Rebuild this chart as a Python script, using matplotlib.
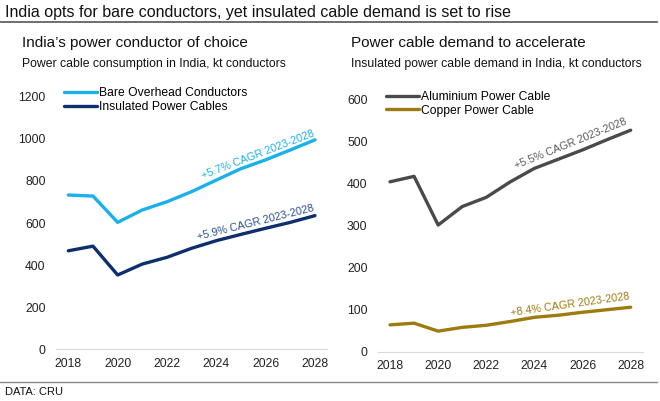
import matplotlib.pyplot as plt
from matplotlib.lines import Line2D

plt.rcParams['font.family'] = ['Liberation Sans', 'DejaVu Sans']

years = [2018, 2019, 2020, 2021, 2022, 2023, 2024, 2025, 2026, 2027, 2028]

# left panel, kt conductors
bare_overhead = [733, 728, 603, 662, 701, 749, 804, 858, 900, 947, 995]
insulated = [468, 490, 353, 405, 437, 480, 516, 546, 575, 603, 635]

# right panel, kt conductors
aluminium = [405, 418, 302, 346, 368, 405, 437, 459, 481, 505, 528]
copper = [64, 68, 49, 58, 63, 72, 82, 87, 94, 100, 106]

xticks = [2018, 2020, 2022, 2024, 2026, 2028]

c_light = '#1ab0ec'
c_navy = '#0d2f6e'
c_navy_txt = '#2a4f8f'
c_grey = '#4a4a4a'
c_grey_txt = '#5a5a5a'
c_gold = '#9e7b0e'

fig = plt.figure(figsize=(6.6, 4.01), dpi=100)

# header and footer
fig.text(5/660, 1 - 12/401, 'India opts for bare conductors, yet insulated cable demand is set to rise',
         fontsize=11.5, va='center', ha='left', color='#111111')
fig.add_artist(Line2D([0, 657/660], [1 - 22/401, 1 - 22/401], color='#555555', lw=1.2))
fig.add_artist(Line2D([0, 657/660], [1 - 381.5/401, 1 - 381.5/401], color='#888888', lw=1.0))
fig.text(5/660, 1 - 392/401, 'DATA: CRU', fontsize=8, va='center', ha='left', color='#111111')

fig.text(22/660, 1 - 43/401, "India\u2019s power conductor of choice", fontsize=11, va='center', color='#111111')
fig.text(22/660, 1 - 64/401, 'Power cable consumption in India, kt conductors', fontsize=8.8, va='center', color='#111111')
fig.text(351/660, 1 - 43/401, 'Power cable demand to accelerate', fontsize=11, va='center', color='#111111')
fig.text(351/660, 1 - 64/401, 'Insulated power cable demand in India, kt conductors', fontsize=8.8, va='center', color='#111111')

ax1 = fig.add_axes([56/660, 1 - 349.3/401, 271.3/660, 252.6/401])
ax2 = fig.add_axes([378/660, 1 - 351.7/401, 264.7/660, 251.7/401])

lw = 2.4
ax1.plot(years, bare_overhead, color=c_light, lw=lw, solid_joinstyle='round', solid_capstyle='round',
         label='Bare Overhead Conductors')
ax1.plot(years, insulated, color=c_navy, lw=lw, solid_joinstyle='round', solid_capstyle='round',
         label='Insulated Power Cables')
ax1.set_ylim(0, 1200)
ax1.set_yticks(range(0, 1201, 200))

ax2.plot(years, aluminium, color=c_grey, lw=lw, solid_joinstyle='round', solid_capstyle='round',
         label='Aluminium Power Cable')
ax2.plot(years, copper, color=c_gold, lw=lw, solid_joinstyle='round', solid_capstyle='round',
         label='Copper Power Cable')
ax2.set_ylim(0, 600)
ax2.set_yticks(range(0, 601, 100))

for ax in (ax1, ax2):
    ax.set_xlim(2017.5, 2028.5)
    ax.set_xticks(xticks)
    for s in ['top', 'right', 'left']:
        ax.spines[s].set_visible(False)
    ax.spines['bottom'].set_color('#d9d9d9')
    ax.spines['bottom'].set_linewidth(0.8)
    ax.tick_params(axis='both', length=0, labelsize=8.8, colors='#222222')
    ax.tick_params(axis='y', pad=7.5)
    ax.tick_params(axis='x', pad=6)
    ax.patch.set_alpha(0)
    ax.legend(loc='upper left', bbox_to_anchor=(0.0, 1.07), frameon=False, fontsize=8.7,
              handlelength=2.7, handletextpad=0.15, labelspacing=0.15, borderaxespad=0.3)

ax1.text(2025.7, 925, '+5.7% CAGR 2023-2028', color=c_light, fontsize=7.8, rotation=21,
         ha='center', va='center', rotation_mode='anchor')
ax1.text(2025.6, 602, '+5.9% CAGR 2023-2028', color=c_navy_txt, fontsize=7.8, rotation=14,
         ha='center', va='center', rotation_mode='anchor')
ax2.text(2025.5, 497, '+5.5% CAGR 2023-2028', color=c_grey_txt, fontsize=7.8, rotation=22,
         ha='center', va='center', rotation_mode='anchor')
ax2.text(2025.5, 111, '+8.4% CAGR 2023-2028', color=c_gold, fontsize=7.8, rotation=8,
         ha='center', va='center', rotation_mode='anchor')

fig.savefig('out.png', dpi=100)
